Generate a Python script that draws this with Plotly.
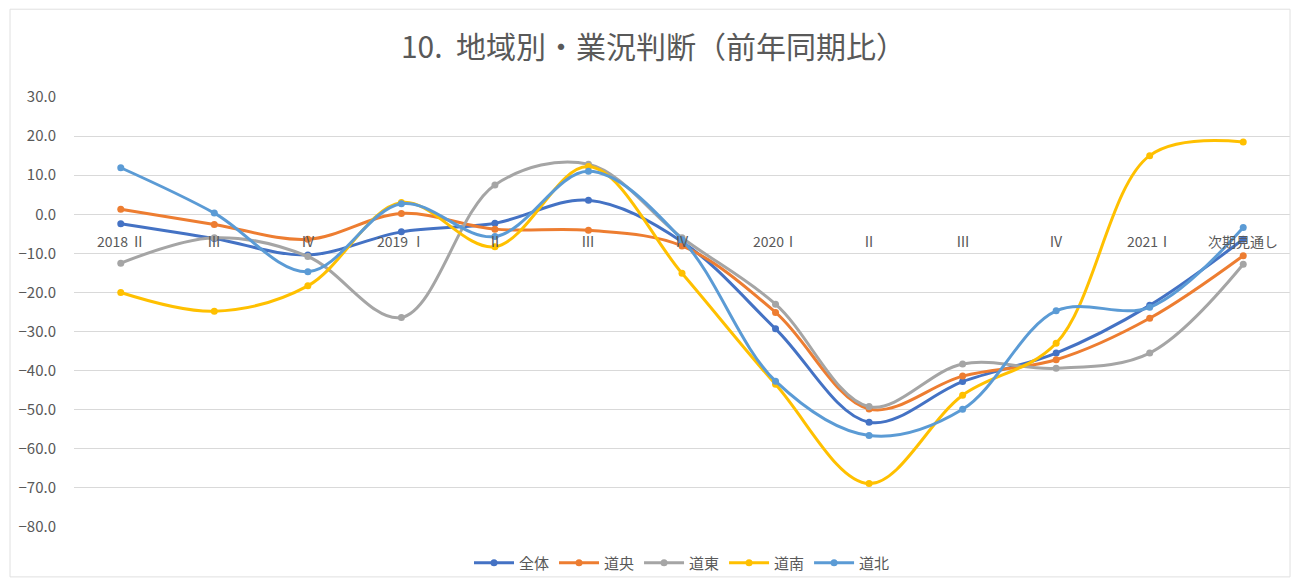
import plotly.graph_objects as go

# quarter labels (Excel category axis)
quarters = ["2018 Ⅱ", "Ⅲ", "Ⅳ", "2019 Ⅰ", "Ⅱ", "Ⅲ", "Ⅳ",
            "2020Ⅰ", "Ⅱ", "Ⅲ", "Ⅳ", "2021Ⅰ", "次期見通し"]

zentai = [-2.4, -6.2, -10.4, -4.5, -2.3, 3.6, -7.0, -29.3, -53.2, -42.8, -35.5, -23.3, -6.4]
dooou = [1.3, -2.6, -6.4, 0.2, -3.8, -4.1, -8.1, -25.1, -49.8, -41.4, -37.2, -26.6, -10.6]
dootou = [-12.5, -6.0, -10.8, -26.4, 7.5, 12.8, -6.0, -23.0, -49.2, -38.3, -39.4, -35.5, -12.8]
doonan = [-20.0, -24.8, -18.3, 3.0, -8.3, 12.2, -15.1, -43.5, -68.9, -46.3, -33.0, 15.0, 18.5]
doohoku = [11.9, 0.3, -14.7, 2.7, -5.7, 11.0, -6.5, -42.7, -56.6, -49.9, -24.7, -23.8, -3.4]

series = [
    ("全体", zentai, "#4472C4"),
    ("道央", dooou, "#ED7D31"),
    ("道東", dootou, "#A5A5A5"),
    ("道南", doonan, "#FFC000"),
    ("道北", doohoku, "#5B9BD5"),
]

FONT = "Noto Sans CJK JP"
GREY = "#595959"

x = list(range(len(quarters)))

fig = go.Figure()
for name, vals, color in series:
    fig.add_trace(go.Scatter(
        x=x, y=vals, name=name,
        mode="lines+markers",
        line=dict(color=color, width=3, shape="spline", smoothing=1.0),
        marker=dict(color=color, size=7),
    ))

# category labels sit just under the zero line, like Excel does
for i, q in enumerate(quarters):
    fig.add_annotation(
        x=i, y=0, xref="x", yref="y", text=q, showarrow=False,
        yanchor="top", yshift=-15,
        font=dict(family=FONT, size=14, color=GREY),
    )

fig.update_layout(
    width=1294, height=582,
    paper_bgcolor="white", plot_bgcolor="white",
    margin=dict(l=74, r=4, t=97, b=54),
    font=dict(family=FONT, color=GREY),
    title=dict(
        text="10.\u00a0\u00a0地域別・業況判断（前年同期比）",
        x=0.505, xanchor="center", y=1 - 47 / 582, yanchor="middle",
        font=dict(family=FONT, size=30, color=GREY),
    ),
    xaxis=dict(range=[-0.5, 12.5], showticklabels=False, showgrid=False,
               zeroline=False, showline=False),
    yaxis=dict(range=[-80, 30], dtick=10, tickformat=".1f",
               gridcolor="#D9D9D9", gridwidth=1, zeroline=False,
               showline=False, ticks="", ticklabelstandoff=17,
               tickfont=dict(family=FONT, size=15, color=GREY)),
    legend=dict(orientation="h", x=0.5, xanchor="center",
                y=-35 / 431, yanchor="middle",
                font=dict(family=FONT, size=15, color=GREY),
                bgcolor="rgba(0,0,0,0)", itemwidth=40),
    showlegend=True,
)

# faint chart-area border
fig.add_shape(type="rect", xref="paper", yref="paper",
              x0=-64 / 1216, x1=1.0, y0=-50 / 431, y1=1 + 88 / 431,
              line=dict(color="#E0E0E0", width=1))

fig.write_html("out.html", config={"displayModeBar": False},
               post_script="document.body.style.margin='0';")
